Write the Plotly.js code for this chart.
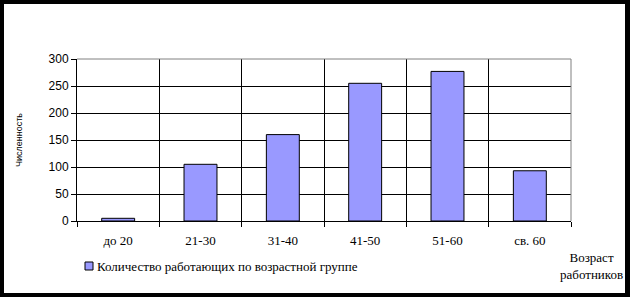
<!DOCTYPE html>
<html>
<head>
<meta charset="utf-8">
<script src="https://cdn.plot.ly/plotly-3.0.1.min.js"></script>
<style>
html,body{margin:0;padding:0;background:#fff;}
#wrap{position:relative;width:630px;height:297px;}
#chart{width:630px;height:297px;}
#frame{position:absolute;left:0;top:0;width:630px;height:297px;box-sizing:border-box;border-style:solid;border-color:#000;border-width:4px 5px 4px 4px;pointer-events:none;}
</style>
</head>
<body>
<div id="wrap"><div id="chart"></div><div id="frame"></div></div>
<script>
const categories = ["до 20", "21-30", "31-40", "41-50", "51-60", "св. 60"];
const workers = [5, 105, 160, 255, 277, 93];
const yTicks = [0, 50, 100, 150, 200, 250, 300];
const seriesName = "Количество работающих по возрастной группе";
const xTitle = "Возраст<br>работников";
const yTitle = "Численность";

const serif = "Liberation Serif, serif";
const sans = "Liberation Sans, sans-serif";

const L = 77, R = 59, T = 59, B = 76;
const pw = 630 - L - R, ph = 297 - T - B;
const px = v => (v - L) / pw;
const py = v => (297 - B - v) / ph;

const trace = {
  type: "bar",
  x: categories,
  y: workers,
  name: seriesName,
  marker: {color: "#9999FF", line: {color: "#000", width: 1}},
  showlegend: false,
  hoverinfo: "skip"
};

const layout = {
  width: 630, height: 297,
  margin: {l: L, r: R, t: T, b: B},
  paper_bgcolor: "#fff", plot_bgcolor: "#fff",
  font: {family: serif, color: "#000"},
  bargap: 0.6,
  showlegend: false,
  xaxis: {
    type: "category",
    range: [-0.5, 5.5],
    tickson: "boundaries",
    ticks: "outside", ticklen: 5, tickcolor: "#000", tickwidth: 1,
    ticklabelstandoff: 7,
    showgrid: true, gridcolor: "#000", gridwidth: 1,
    showline: true, linecolor: "#000", linewidth: 1,
    tickfont: {family: serif, size: 13, color: "#000"},
    zeroline: false
  },
  yaxis: {
    range: [0, 300],
    tickvals: yTicks,
    ticks: "outside", ticklen: 5, tickcolor: "#000", tickwidth: 1,
    showgrid: true, gridcolor: "#000", gridwidth: 1,
    showline: true, linecolor: "#000", linewidth: 1,
    tickfont: {family: sans, size: 12, color: "#000"},
    zeroline: false
  },
  shapes: [
    {type: "line", xref: "paper", yref: "paper", x0: 0, x1: 1, y0: 1, y1: 1, line: {color: "#808080", width: 1}, layer: "above"},
    {type: "line", xref: "paper", yref: "paper", x0: 1, x1: 1, y0: 0, y1: 1, line: {color: "#808080", width: 1}, layer: "above"},
    {type: "rect", xref: "paper", yref: "paper", x0: px(85), x1: px(93), y0: py(262), y1: py(270), fillcolor: "#9999FF", line: {color: "#000", width: 1}}
  ],
  annotations: [
    {text: seriesName, xref: "paper", yref: "paper", x: px(95), y: py(266), xanchor: "left", yanchor: "middle", showarrow: false, font: {family: serif, size: 13, color: "#000"}},
    {text: xTitle, xref: "paper", yref: "paper", x: px(591), y: py(266), xanchor: "center", yanchor: "middle", align: "center", showarrow: false, font: {family: serif, size: 13, color: "#000"}},
    {text: yTitle, xref: "paper", yref: "paper", x: px(19), y: py(140), xanchor: "center", yanchor: "middle", textangle: -90, showarrow: false, font: {family: sans, size: 9, color: "#000"}}
  ]
};

Plotly.newPlot("chart", [trace], layout, {staticPlot: true, displayModeBar: false});
</script>
</body>
</html>
